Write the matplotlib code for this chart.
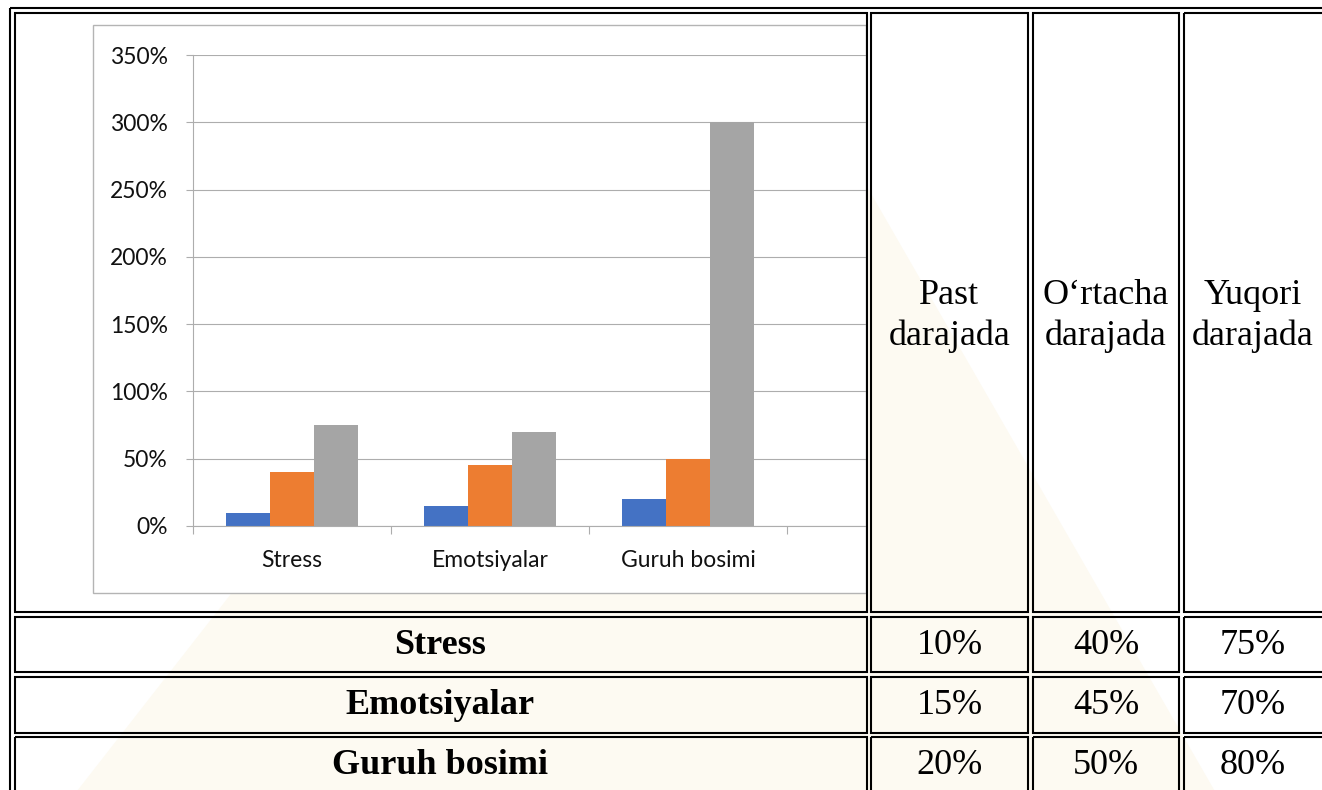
import matplotlib
matplotlib.use('Agg')
import matplotlib.pyplot as plt
from matplotlib.patches import Rectangle, Polygon
from matplotlib.ticker import PercentFormatter
import numpy as np

# chart data (as drawn in the embedded chart)
categories = ['Stress', 'Emotsiyalar', 'Guruh bosimi']
past = [0.10, 0.15, 0.20]
ortacha = [0.40, 0.45, 0.50]
yuqori = [0.75, 0.70, 3.00]
yticks = [0, 0.5, 1.0, 1.5, 2.0, 2.5, 3.0, 3.5]

# table data (as typed in the table)
levels = ['Past\ndarajada', 'O‘rtacha\ndarajada', 'Yuqori\ndarajada']
tab_past = ['10%', '15%', '20%']
tab_ortacha = ['40%', '45%', '50%']
tab_yuqori = ['75%', '70%', '80%']

W, H = 1322, 790
fig = plt.figure(figsize=(W / 100, H / 100), dpi=100)

# background layer: faint watermark, chart frame
bg = fig.add_axes([0, 0, 1, 1])
bg.set_xlim(0, W)
bg.set_ylim(H, 0)
bg.axis('off')
bg.add_patch(Polygon([(70, 800), (640, 70), (800, 70), (1220, 800)], closed=True,
                     facecolor='#FDFAF2', edgecolor='none', zorder=0))
bg.add_patch(Rectangle((93, 25), 866 - 93, 593 - 25, facecolor='white',
                       edgecolor='#B4B4B4', lw=1.0, zorder=1))

# the chart itself
px = lambda x0, y0, x1, y1: [x0 / W, 1 - y1 / H, (x1 - x0) / W, (y1 - y0) / H]
ax = fig.add_axes(px(193, 55, 866, 526))
ax.set_facecolor('none')
x = np.arange(len(categories))
w = 44 / 198
ax.bar(x - w, past, w, color='#4472C4', zorder=2)
ax.bar(x, ortacha, w, color='#ED7D31', zorder=2)
ax.bar(x + w, yuqori, w, color='#A5A5A5', zorder=2)
ax.set_xlim(-0.5, -0.5 + 673 / 198)
ax.set_ylim(0, 3.5)
ax.set_yticks(yticks)
ax.yaxis.set_major_formatter(PercentFormatter(1.0, decimals=0))
ax.grid(axis='y', color='#ADADAD', lw=0.8, zorder=0)
ax.set_axisbelow(True)
for s in ['top', 'right']:
    ax.spines[s].set_visible(False)
for s in ['left', 'bottom']:
    ax.spines[s].set_color('#ADADAD')
    ax.spines[s].set_linewidth(0.8)
ax.set_xticks(x, categories)
ax.set_xticks([-0.5, 0.5, 1.5, 2.5], minor=True)
ax.tick_params(axis='x', which='major', length=0, pad=17)
ax.tick_params(axis='x', which='minor', length=6, color='#ADADAD', width=0.8)
ax.tick_params(axis='y', length=5, color='#ADADAD', width=0.8, pad=13)
for lab in ax.get_xticklabels() + ax.get_yticklabels():
    lab.set_fontfamily('Lato')
    lab.set_fontsize(16.5)
    lab.set_color('#111111')

# top layer: table borders and texts
top = fig.add_axes([0, 0, 1, 1])
top.set_xlim(0, W)
top.set_ylim(H, 0)
top.axis('off')
top.patch.set_alpha(0)

def cell(x0, y0, x1, y1):
    top.add_patch(Rectangle((x0, y0), x1 - x0, y1 - y0, fill=False,
                            edgecolor='black', lw=1.5))

cell(10, 7.5, 1345, 805)
cols = [(14.5, 866.5), (871, 1028), (1033, 1179), (1184, 1345)]
rows = [(13, 612), (617, 672), (677, 733), (737, 805)]
for (x0, x1) in cols:
    for (y0, y1) in rows:
        cell(x0, y0, x1, y1)

serif = dict(family='Liberation Serif', fontsize=26, color='black',
             ha='center', va='center')
header_cx = [949.5, 1106, 1253]
for cx, lv in zip(header_cx, levels):
    top.text(cx, 316, lv, linespacing=1.32, **serif)

row_cy = [645, 705, 765]
for i, cy in enumerate(row_cy):
    top.text(440, cy, categories[i], fontweight='bold', **serif)
    top.text(header_cx[0], cy, tab_past[i], **serif)
    top.text(header_cx[1], cy, tab_ortacha[i], **serif)
    top.text(header_cx[2], cy, tab_yuqori[i], **serif)

fig.savefig('out.png', dpi=100)
